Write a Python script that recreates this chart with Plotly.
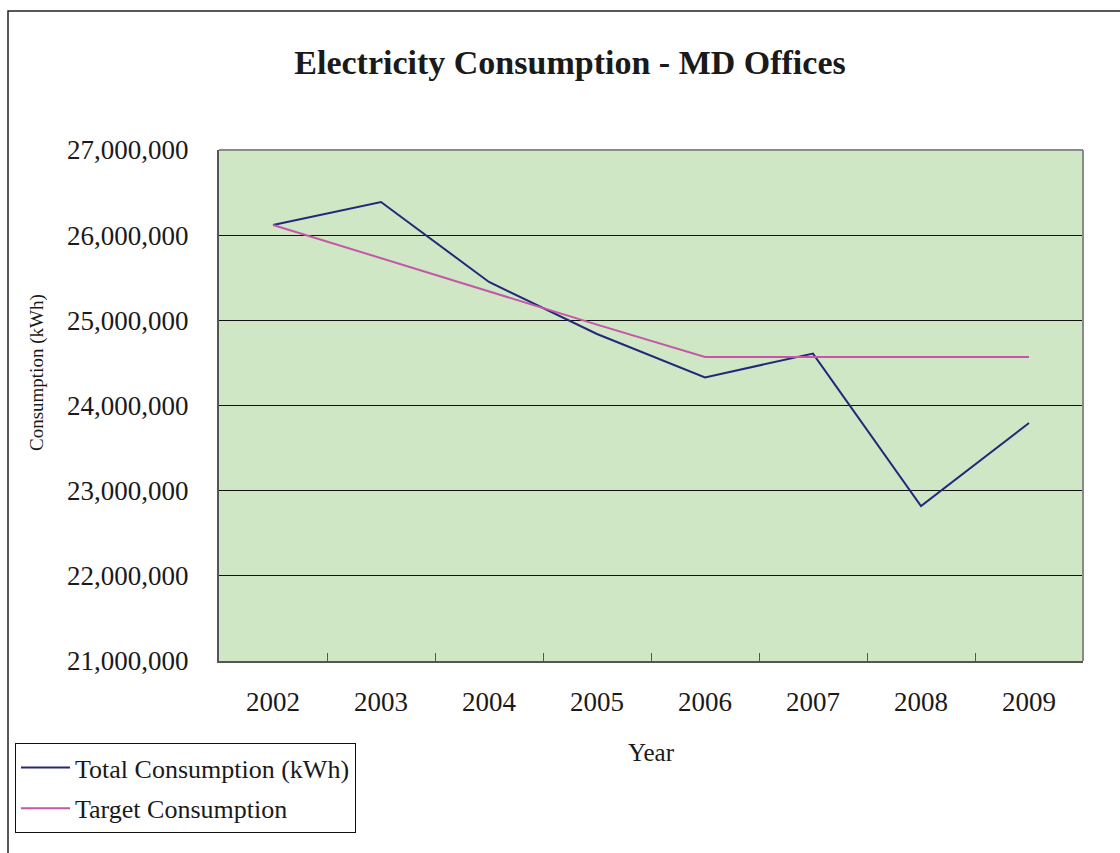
import plotly.graph_objects as go

years = ["2002", "2003", "2004", "2005", "2006", "2007", "2008", "2009"]
total_consumption = [26120000, 26390000, 25450000, 24840000, 24330000, 24610000, 22820000, 23795000]
target_consumption = [26120000, 25730000, 25340000, 24950000, 24570000, 24570000, 24570000, 24570000]
y_ticks = [21000000, 22000000, 23000000, 24000000, 25000000, 26000000, 27000000]

W, H = 1120, 853
L, R, T, B = 219, 37, 150, 192
pw, ph = W - L - R, H - T - B

def px(x):
    return (x - L) / pw

def py(y):
    return (H - B - y) / ph

serif = "Liberation Serif, Times New Roman, serif"
txt = "#1a1a1a"

fig = go.Figure()
fig.add_trace(go.Scatter(x=years, y=total_consumption, mode="lines",
                         name="Total Consumption (kWh)", legendgroup="a",
                         line=dict(color="#25287A", width=2)))
fig.add_trace(go.Scatter(x=years, y=target_consumption, mode="lines",
                         name="Target Consumption", legendgroup="b",
                         line=dict(color="#C457A8", width=2)))

fig.update_layout(
    width=W, height=H,
    margin=dict(l=L, r=R, t=T, b=B, pad=0),
    paper_bgcolor="white",
    plot_bgcolor="#CFE7C5",
    font=dict(family=serif, color=txt),
    title=dict(text="<b>Electricity Consumption - MD Offices</b>",
               x=px(570), xanchor="center", xref="paper",
               y=1 - 62 / H, yanchor="middle", yref="container",
               font=dict(size=34, family=serif, color=txt)),
    showlegend=True,
    legend=dict(x=px(15), y=py(743), xanchor="left", yanchor="top",
                bgcolor="white", bordercolor="#111111", borderwidth=1,
                font=dict(size=26, family=serif, color=txt),
                itemwidth=49,
                tracegroupgap=4),
    xaxis=dict(
        type="category",
        showgrid=False,
        showline=True, linecolor="#555555", linewidth=2,
        mirror=False,
        ticks="inside", ticklen=8, tickcolor="#555555", tickwidth=1,
        tickson="boundaries",
        tickfont=dict(size=27, family=serif, color=txt),
        ticklabelstandoff=16,
        title=dict(text="Year", font=dict(size=25, family=serif, color=txt),
                   standoff=27),
        range=[-0.5, 7.5],
        zeroline=False,
    ),
    yaxis=dict(
        range=[21000000, 27000000],
        tickvals=y_ticks,
        ticktext=[f"{v:,}" for v in y_ticks],
        showgrid=True, gridcolor="#111111", gridwidth=1,
        showline=True, linecolor="#555555", linewidth=2,
        ticks="",
        tickfont=dict(size=27, family=serif, color=txt),
        ticklabelstandoff=23,
        zeroline=False,
    ),
    annotations=[
        dict(text="Consumption (kWh)", xref="paper", yref="paper",
             x=px(37), y=py(373), xanchor="center", yanchor="middle",
             textangle=-90, showarrow=False,
             font=dict(size=19, family=serif, color=txt)),
    ],
    shapes=[
        dict(type="line", xref="paper", yref="paper", x0=0, x1=1, y0=1, y1=1,
             line=dict(color="#8a8a8a", width=2)),
        dict(type="line", xref="paper", yref="paper", x0=1, x1=1, y0=0, y1=1,
             line=dict(color="#8a8a8a", width=2)),
        dict(type="rect", xref="paper", yref="paper",
             x0=px(8), x1=px(1130), y0=py(11), y1=py(870),
             line=dict(color="#222222", width=1.5), layer="below"),
    ],
)

fig.write_html("out.html")
